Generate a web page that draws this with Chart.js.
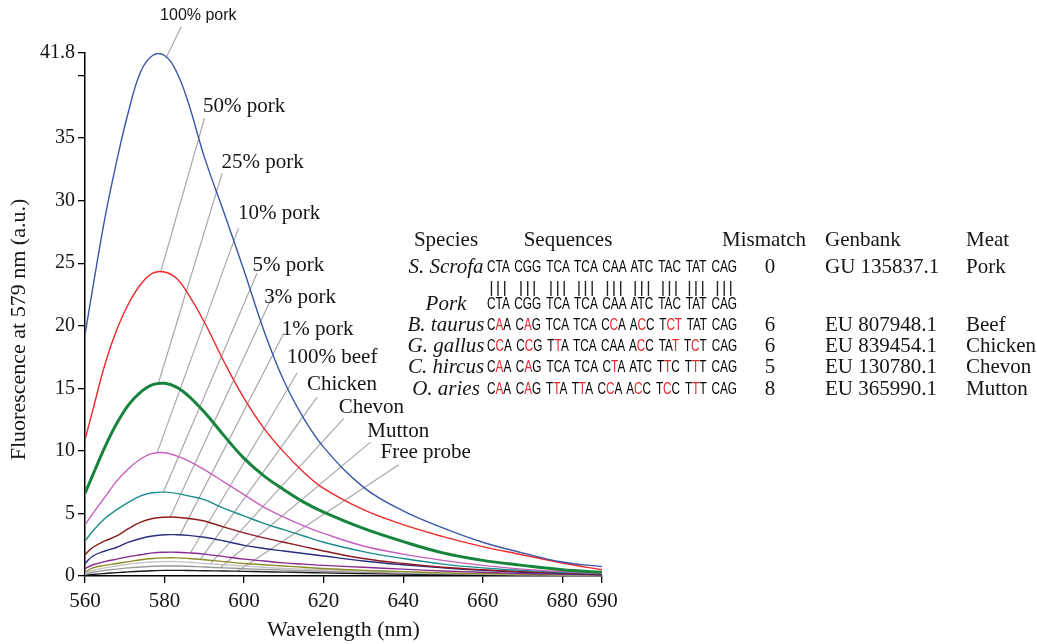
<!DOCTYPE html>
<html>
<head>
<meta charset="utf-8">
<script src="https://cdn.jsdelivr.net/npm/chart.js@4.4.0/dist/chart.umd.min.js"></script>
<style>
  html, body { margin: 0; padding: 0; background: #fff; }
  #wrap { position: relative; width: 1037px; height: 644px; overflow: hidden; }
  #chart { position: absolute; left: 0; top: 0; }
  .cell { position: absolute; font-family: "Liberation Serif", serif; font-size: 21px; line-height: 24px; white-space: nowrap; color: #151515; }
  .ital { font-style: italic; }
  .seq { position: absolute; font-family: "Liberation Sans", sans-serif; font-size: 16px; line-height: 18px; word-spacing: 2.5px; white-space: pre; color: #000; transform-origin: left center; }
  .bars { position: absolute; font-family: "Liberation Sans", sans-serif; font-size: 17px; line-height: 18px; letter-spacing: 2.2px; color: #222; white-space: pre; }
  .red { color: #e8232a; }
</style>
</head>
<body>
<div id="wrap">
  <canvas id="chart" width="1037" height="644"></canvas>
  <div id="table"></div>
</div>
<script>
// x values (nm)
const wavelengths = [560, 562, 565, 568, 571, 574, 577, 580, 583, 586, 590, 595, 600, 605, 610, 615, 620, 630, 640, 650, 660, 670, 680, 690];

// fluorescence at 579 nm (a.u.)
const pork100 = [19.3, 23.1, 28.6, 33.2, 37.2, 40.3, 41.6, 41.6, 40.3, 37.8, 33.5, 29.0, 24.4, 19.6, 15.6, 12.6, 10.3, 7.1, 5.2, 3.85, 2.7, 1.85, 1.12, 0.75];
const pork50 = [10.9, 13.3, 16.9, 19.7, 21.8, 23.3, 24.2, 24.3, 23.8, 22.5, 20.3, 17.1, 14.2, 11.8, 9.9, 8.3, 7.0, 5.3, 4.1, 3.15, 2.35, 1.7, 1.04, 0.5];
const pork25 = [6.6, 8.1, 10.3, 12.2, 13.7, 14.7, 15.3, 15.4, 15.1, 14.4, 13.1, 11.2, 9.4, 8.0, 6.9, 5.9, 5.1, 3.8, 2.75, 1.85, 1.25, 0.85, 0.5, 0.3];
const pork10 = [4.1, 5.0, 6.3, 7.6, 8.6, 9.35, 9.8, 9.85, 9.6, 9.2, 8.5, 7.5, 6.5, 5.5, 4.7, 4.0, 3.4, 2.4, 1.75, 1.25, 0.85, 0.55, 0.35, 0.2];
const pork5 = [2.8, 3.6, 4.6, 5.3, 5.9, 6.4, 6.65, 6.7, 6.6, 6.4, 6.1, 5.4, 4.8, 4.2, 3.7, 3.2, 2.7, 1.95, 1.4, 0.95, 0.65, 0.45, 0.3, 0.2];
const pork3 = [1.7, 2.3, 2.8, 3.2, 3.8, 4.3, 4.6, 4.7, 4.7, 4.6, 4.4, 3.9, 3.45, 3.05, 2.7, 2.35, 2.0, 1.4, 1.0, 0.7, 0.5, 0.35, 0.25, 0.15];
const pork1 = [1.0, 1.6, 2.0, 2.3, 2.7, 3.0, 3.2, 3.3, 3.3, 3.25, 3.1, 2.8, 2.45, 2.2, 2.0, 1.8, 1.6, 1.2, 0.9, 0.65, 0.45, 0.3, 0.2, 0.1];
const beef100 = [0.6, 0.9, 1.15, 1.35, 1.55, 1.7, 1.85, 1.9, 1.9, 1.85, 1.75, 1.55, 1.35, 1.2, 1.05, 0.95, 0.85, 0.7, 0.55, 0.4, 0.3, 0.2, 0.15, 0.1];
const chicken = [0.3, 0.65, 0.85, 1.0, 1.15, 1.3, 1.4, 1.45, 1.45, 1.4, 1.3, 1.15, 1.0, 0.9, 0.8, 0.7, 0.6, 0.45, 0.35, 0.25, 0.2, 0.15, 0.1, 0.08];
const chevon = [0.2, 0.45, 0.65, 0.8, 0.95, 1.05, 1.12, 1.15, 1.15, 1.1, 1.0, 0.9, 0.8, 0.7, 0.6, 0.55, 0.5, 0.4, 0.3, 0.22, 0.17, 0.12, 0.1, 0.07];
const mutton = [0.15, 0.3, 0.45, 0.55, 0.65, 0.72, 0.78, 0.8, 0.8, 0.78, 0.72, 0.65, 0.58, 0.52, 0.47, 0.42, 0.38, 0.3, 0.23, 0.18, 0.14, 0.1, 0.08, 0.05];
const freeProbe = [0.05, 0.12, 0.2, 0.27, 0.33, 0.38, 0.42, 0.45, 0.45, 0.44, 0.42, 0.4, 0.37, 0.34, 0.31, 0.28, 0.25, 0.2, 0.16, 0.12, 0.1, 0.08, 0.06, 0.05];

const seriesNames = ['100% pork', '50% pork', '25% pork', '10% pork', '5% pork', '3% pork', '1% pork', '100% beef', 'Chicken', 'Chevon', 'Mutton', 'Free probe'];
const seriesValues = [pork100, pork50, pork25, pork10, pork5, pork3, pork1, beef100, chicken, chevon, mutton, freeProbe];
const seriesColors = ['#3b57a6', '#f0282a', '#17843d', '#c660bd', '#1c8c8c', '#8e1b1e', '#2b2d7f', '#8a2a8e', '#8c8c2a', '#c4c4c4', '#999999', '#1a1a1a'];
const seriesWidths = [1.4, 1.4, 3, 1.4, 1.4, 1.4, 1.4, 1.4, 1.4, 1.4, 1.4, 1.4];

const xTicks = [560, 580, 600, 620, 640, 660, 680, 690];
const yTicks = [0, 5, 10, 15, 20, 25, 30, 35, 40, 41.8];
const yTickLabels = ['0', '5', '10', '15', '20', '25', '30', '35', '', '41.8'];

// leader lines: where they touch the curve (nm), their far end and the label spot (nm, a.u.)
const anchorNm = [580.4, 579.0, 578.4, 578.1, 579.7, 581.4, 583.9, 586.5, 589.0, 591.5, 594.0, 598.3];
const tipNm = [584.2, 590.05, 594.5, 598.6, 603.25, 607.0, 610.0, 613.3, 618.4, 625.1, 631.8, 638.9];
const tipVal = [43.9, 36.6, 32.2, 27.8, 24.2, 22.3, 19.4, 16.2, 14.3, 12.6, 10.7, 8.9];
const textNm = [588.5, 589.7, 594.3, 598.5, 602.1, 605.1, 609.5, 610.8, 615.8, 623.8, 631.0, 634.3];
const textVal = [44.4, 37.1, 32.6, 28.5, 24.4, 21.8, 19.3, 17.0, 14.9, 13.0, 11.1, 9.4];

// inset table
const tableHeads = ['Species', 'Sequences', 'Mismatch', 'Genbank', 'Meat'];
const species = ['S. Scrofa', 'Pork', 'B. taurus', 'G. gallus', 'C. hircus', 'O. aries'];
// lower case = mismatched base (shown in red)
const sequences = [
  'CTA CGG TCA TCA CAA ATC TAC TAT CAG',
  'CTA CGG TCA TCA CAA ATC TAC TAT CAG',
  'CaA CaG TCA TCA CcA AcC Tct TAT CAG',
  'CcA CcG TtA TCA CAA AcC TAt TcT CAG',
  'CaA CaG TCA TCA CtA ATC TtC TtT CAG',
  'CaA CaG TtA TtA CcA AcC TcC TtT CAG'
];
const mismatches = ['0', '', '6', '6', '5', '8'];
const genbank = ['GU 135837.1', '', 'EU 807948.1', 'EU 839454.1', 'EU 130780.1', 'EU 365990.1'];
const meats = ['Pork', '', 'Beef', 'Chicken', 'Chevon', 'Mutton'];

function valueAt(vals, nm) {
  for (let i = 1; i < wavelengths.length; i++) {
    if (nm <= wavelengths[i]) {
      const t = (nm - wavelengths[i - 1]) / (wavelengths[i] - wavelengths[i - 1]);
      return vals[i - 1] + t * (vals[i] - vals[i - 1]);
    }
  }
  return vals[vals.length - 1];
}

const serif = '"Liberation Serif", serif';

const leaders = {
  id: 'leaders',
  beforeDatasetsDraw(chart) {
    const { ctx, scales: { x, y } } = chart;
    ctx.save();
    ctx.strokeStyle = '#a8a8a8';
    ctx.lineWidth = 1.2;
    seriesNames.forEach((n, i) => {
      ctx.beginPath();
      ctx.moveTo(x.getPixelForValue(anchorNm[i]), y.getPixelForValue(valueAt(seriesValues[i], anchorNm[i])));
      ctx.lineTo(x.getPixelForValue(tipNm[i]), y.getPixelForValue(tipVal[i]));
      ctx.stroke();
    });
    ctx.restore();
  },
  afterDraw(chart) {
    const { ctx, chartArea, scales: { x, y } } = chart;
    ctx.save();
    ctx.fillStyle = '#151515';
    ctx.textBaseline = 'alphabetic';
    seriesNames.forEach((n, i) => {
      if (i === 0) {
        ctx.font = '16px "Liberation Sans", sans-serif';
        ctx.textAlign = 'center';
      } else {
        ctx.font = '21px ' + serif;
        ctx.textAlign = 'left';
      }
      ctx.fillText(n, x.getPixelForValue(textNm[i]), y.getPixelForValue(textVal[i]));
    });
    // y axis title
    ctx.translate(19, (chartArea.top + chartArea.bottom) / 2 + 15);
    ctx.rotate(-Math.PI / 2);
    ctx.textAlign = 'center';
    ctx.textBaseline = 'middle';
    ctx.font = '22px ' + serif;
    ctx.fillText('Fluorescence at 579 nm (a.u.)', 0, 0);
    ctx.restore();
  }
};

new Chart(document.getElementById('chart'), {
  type: 'line',
  data: {
    datasets: seriesNames.map((n, i) => ({
      label: n,
      data: wavelengths.map((w, j) => ({ x: w, y: seriesValues[i][j] })),
      borderColor: seriesColors[i],
      borderWidth: seriesWidths[i],
      pointRadius: 0,
      tension: 0.4,
      fill: false
    }))
  },
  options: {
    responsive: false,
    animation: false,
    layout: { padding: { top: 53, right: 435, bottom: 0, left: 0 } },
    plugins: { legend: { display: false }, tooltip: { enabled: false } },
    scales: {
      x: {
        type: 'linear',
        min: 560,
        max: 690,
        afterBuildTicks: s => { s.ticks = xTicks.map(v => ({ value: v })); },
        afterFit: s => { s.height = 68; },
        ticks: { autoSkip: false, maxRotation: 0, padding: 6, color: '#151515', font: { family: serif, size: 21 } },
        grid: { drawOnChartArea: false, drawTicks: true, tickLength: 7, color: '#000', lineWidth: 1.3 },
        border: { color: '#000', width: 1.5 },
        title: { display: true, text: 'Wavelength (nm)', color: '#151515', font: { family: serif, size: 22 }, padding: { top: 0, bottom: 1 } }
      },
      y: {
        min: 0,
        max: 41.8,
        afterBuildTicks: s => { s.ticks = yTicks.map(v => ({ value: v })); },
        afterFit: s => { s.width = 85; },
        ticks: {
          autoSkip: false,
          padding: 3,
          color: '#151515',
          font: { family: serif, size: 20 },
          callback: (v) => yTickLabels[yTicks.indexOf(v)]
        },
        grid: { drawOnChartArea: false, drawTicks: true, tickLength: 7, color: '#000', lineWidth: 1.3 },
        border: { color: '#000', width: 1.5 }
      }
    }
  },
  plugins: [leaders]
});

// inset table built from the arrays above
const table = document.getElementById('table');
function cell(text, x, yc, align, cls) {
  const d = document.createElement('div');
  d.className = 'cell' + (cls ? ' ' + cls : '');
  d.textContent = text;
  d.style.top = (yc - 13) + 'px';
  d.style.left = x + 'px';
  if (align === 'c') d.style.transform = 'translateX(-50%)';
  table.appendChild(d);
}
const headX = [446, 568, 764, 825, 966];
const headAlign = ['c', 'c', 'c', 'l', 'l'];
tableHeads.forEach((h, i) => cell(h, headX[i], 240, headAlign[i]));

const rowY = [267, 304, 325, 346, 367, 389];
const seqLeft = 487;
const seqWidth = 250;
const firstRowCodons = [];
species.forEach((sp, r) => {
  cell(sp, 446, rowY[r], 'c', 'ital');
  // whole sequence on one line, squeezed to the width it has in the figure
  const row = document.createElement('div');
  row.className = 'seq';
  row.style.left = seqLeft + 'px';
  row.style.top = (rowY[r] - 9) + 'px';
  sequences[r].split(' ').forEach((c, k) => {
    if (k > 0) row.appendChild(document.createTextNode(' '));
    const s = document.createElement('span');
    s.innerHTML = c.split('').map(ch => ch === ch.toLowerCase() ? '<span class="red">' + ch.toUpperCase() + '</span>' : ch).join('');
    row.appendChild(s);
    if (r === 0) firstRowCodons.push(s);
  });
  table.appendChild(row);
  row.style.transform = 'scaleX(' + (seqWidth / row.offsetWidth) + ')';
  if (mismatches[r]) cell(mismatches[r], 770, rowY[r], 'c');
  if (genbank[r]) cell(genbank[r], 825, rowY[r], 'l');
  if (meats[r]) cell(meats[r], 966, rowY[r], 'l');
});

// match bars between S. scrofa and the pork probe, centred under each codon
const wrapLeft = document.getElementById('wrap').getBoundingClientRect().left;
firstRowCodons.forEach(c => {
  const rc = c.getBoundingClientRect();
  const s = document.createElement('span');
  s.className = 'bars';
  s.textContent = '|||';
  s.style.top = (288 - 9) + 'px';
  table.appendChild(s);
  s.style.left = (rc.left - wrapLeft + rc.width / 2 - (s.offsetWidth - 2.2) / 2) + 'px';
});
</script>
</body>
</html>
